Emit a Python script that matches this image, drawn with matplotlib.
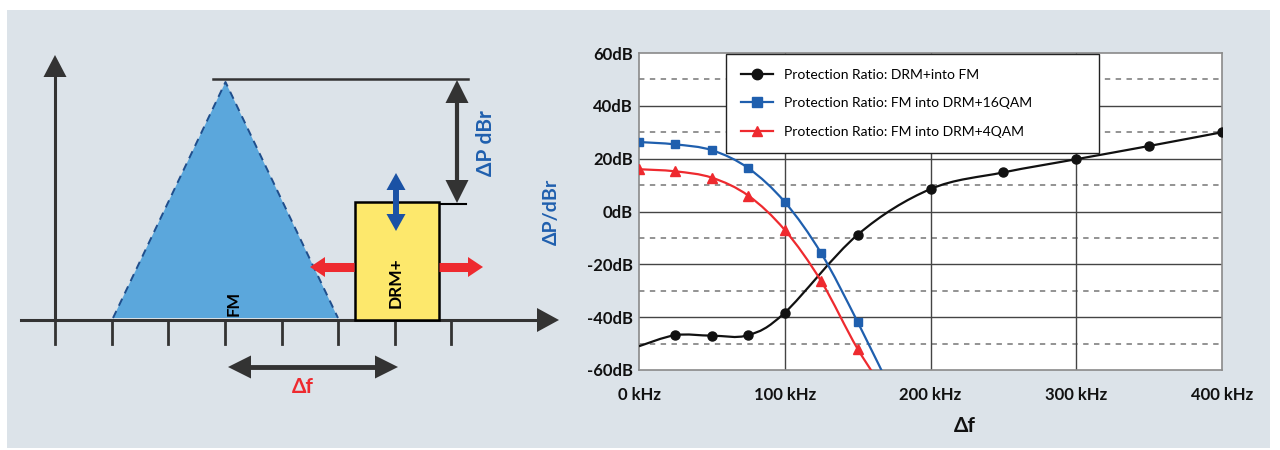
import numpy as np
import matplotlib.pyplot as plt
from matplotlib.patches import Polygon, Rectangle, PathPatch
from matplotlib.path import Path
from matplotlib.lines import Line2D

plt.rcParams['font.family'] = ['Lato', 'DejaVu Sans']

# --- data ---
freq_khz_drm = [0, 25, 50, 75, 100, 150, 200, 250, 300, 350, 400]
pr_drm_into_fm = [-51, -46.8, -47, -46.8, -38.3, -8.8, 8.5, 14.8, 19.8, 24.8, 30]

freq_khz_fm = [0, 25, 50, 75, 100, 125, 150, 175]
pr_fm_into_16qam = [26.3, 25.4, 23.2, 16.4, 3.6, -15.8, -41.8, -70]
pr_fm_into_4qam = [16.0, 15.2, 12.8, 6.0, -7.0, -26.4, -52.0, -73]

legend_labels = ['Protection Ratio: DRM+into FM',
                 'Protection Ratio: FM into DRM+16QAM',
                 'Protection Ratio: FM into DRM+4QAM']
y_ticks = [-60, -40, -20, 0, 20, 40, 60]
x_ticks = [0, 100, 200, 300, 400]

C_BG = '#dce3e9'
C_DARK = '#333333'
C_BLUE = '#1f5fae'
C_RED = '#ee2a2f'


def smooth_path(xs, ys):
    # Catmull-Rom through the points, drawn as cubic Bezier segments
    pts = np.column_stack([xs, ys]).astype(float)
    ext = np.vstack([pts[0], pts, pts[-1]])
    verts = [tuple(pts[0])]
    codes = [Path.MOVETO]
    for i in range(1, len(ext) - 2):
        p0, p1, p2, p3 = ext[i - 1], ext[i], ext[i + 1], ext[i + 2]
        c1 = p1 + (p2 - p0) / 6.0
        c2 = p2 - (p3 - p1) / 6.0
        verts += [tuple(c1), tuple(c2), tuple(p2)]
        codes += [Path.CURVE4] * 3
    return Path(verts, codes)


def head(ax, tip, d, length, width, color):
    tx, ty = tip
    dx, dy = d
    px, py = -dy, dx
    bx, by = tx - dx * length, ty - dy * length
    ax.add_patch(Polygon([(tx, ty), (bx + px * width / 2, by + py * width / 2),
                          (bx - px * width / 2, by - py * width / 2)],
                         closed=True, facecolor=color, edgecolor='none', zorder=5))


fig = plt.figure(figsize=(12.8, 4.5), dpi=100)

# ---------- left diagram (pixel coordinates) ----------
ax0 = fig.add_axes([0, 0, 1, 1])
ax0.set_xlim(0, 1280)
ax0.set_ylim(450, 0)
ax0.axis('off')
ax0.add_patch(Rectangle((7, 10), 1263, 438, facecolor=C_BG, edgecolor='none', zorder=0))

# axes of the sketch
ax0.plot([55, 55], [320, 75], color=C_DARK, lw=2.2, zorder=3)
head(ax0, (55, 55), (0, -1), 22, 23, C_DARK)
ax0.plot([21, 540], [320, 320], color=C_DARK, lw=2.2, zorder=3)
head(ax0, (559, 320), (1, 0), 22, 24, C_DARK)
for tx in [55, 112, 168, 225, 282, 338, 395, 451]:
    ax0.plot([tx, tx], [320, 344], color=C_DARK, lw=2, zorder=3)

# FM triangle
ax0.add_patch(Polygon([(113, 318), (225.5, 82), (338, 318)], closed=True,
                      facecolor='#5ba7dc', edgecolor='none', zorder=2))
ax0.plot([113, 225.5, 338], [318, 82, 318], color='#1f4e8c', lw=1.4,
         dashes=(4, 3), zorder=2.5)
ax0.text(234, 303, 'FM', rotation=90, ha='center', va='center', fontsize=12,
         fontweight='bold', color='black', zorder=6)

# DRM+ box
ax0.add_patch(Rectangle((354.5, 202), 84, 118, facecolor='#fde86c', edgecolor='black',
                        lw=1.8, zorder=4))
ax0.text(396, 283, 'DRM+', rotation=90, ha='center', va='center', fontsize=12.5,
         fontweight='bold', color='black', zorder=6)

# Delta P reference lines and arrow
ax0.plot([213, 468], [79, 79], color=C_DARK, lw=1.8, zorder=3)
ax0.plot([439, 466], [204, 204], color='black', lw=1.5, zorder=3)
ax0.plot([457, 457], [100, 183], color=C_DARK, lw=3, zorder=3)
head(ax0, (457, 80), (0, -1), 23, 23, C_DARK)
head(ax0, (457, 203), (0, 1), 23, 23, C_DARK)
ax0.text(486, 143, 'ΔP dBr', rotation=90, ha='center', va='center', fontsize=15,
         fontweight='bold', color=C_BLUE, zorder=6)

# blue up/down arrow on the box
ax0.plot([396, 396], [188, 216], color='#1a52a5', lw=4.3, zorder=6)
head(ax0, (396, 173), (0, -1), 17, 19, '#1a52a5')
head(ax0, (396, 231), (0, 1), 17, 19, '#1a52a5')

# red sideways arrows
ax0.plot([324, 354], [267, 267], color=C_RED, lw=6.5, solid_capstyle='butt', zorder=6)
head(ax0, (310, 267), (-1, 0), 15, 20, C_RED)
ax0.plot([439, 469], [267, 267], color=C_RED, lw=6.5, solid_capstyle='butt', zorder=6)
head(ax0, (483, 267), (1, 0), 15, 20, C_RED)

# delta f arrow
ax0.plot([248, 378], [367, 367], color=C_DARK, lw=3.5, zorder=3)
head(ax0, (228, 367), (-1, 0), 23, 23, C_DARK)
head(ax0, (398, 367), (1, 0), 23, 23, C_DARK)
ax0.text(303, 387, 'Δf', ha='center', va='center', fontsize=15, fontweight='bold',
         color=C_RED, zorder=6)

# ---------- right chart ----------
ax = fig.add_axes([639 / 1280, 1 - 370 / 450, 583 / 1280, 317 / 450])
ax.set_facecolor('white')
ax.set_xlim(0, 400)
ax.set_ylim(-60, 60)

for v in [-50, -30, -10, 10, 30, 50]:
    ax.axhline(v, color='#8a8a8a', lw=1.3, dashes=(3, 3), zorder=1)
for v in y_ticks[1:-1]:
    ax.axhline(v, color='#444444', lw=1.0, zorder=1)
for v in x_ticks[1:-1]:
    ax.axvline(v, color='#444444', lw=1.0, zorder=1)
for s in ax.spines.values():
    s.set_color('#8a8a8a')
    s.set_linewidth(1.2)

series = [
    (freq_khz_drm, pr_drm_into_fm, '#111111', 'o', 6.5, slice(1, None)),
    (freq_khz_fm, pr_fm_into_16qam, C_BLUE, 's', 6, slice(0, 7)),
    (freq_khz_fm, pr_fm_into_4qam, C_RED, '^', 6.5, slice(0, 7)),
]
handles = []
for (xs, ys, col, mk, ms, sel), lab in zip(series, legend_labels):
    ax.add_patch(PathPatch(smooth_path(xs, ys), facecolor='none', edgecolor=col,
                           lw=1.6, zorder=3, clip_on=True))
    ax.plot(np.asarray(xs)[sel], np.asarray(ys)[sel], linestyle='none', marker=mk,
            markersize=ms, color=col, zorder=4, clip_on=True)
    handles.append(Line2D([], [], color=col, lw=1.6, marker=mk, markersize=ms + 1))

ax.set_yticks(y_ticks)
ax.set_yticklabels([f'{v}dB' for v in y_ticks])
ax.set_xticks(x_ticks)
ax.set_xticklabels([f'{v} kHz' for v in x_ticks])
ax.tick_params(axis='y', length=0, pad=4.5, labelsize=12)
ax.tick_params(axis='x', length=0, pad=12, labelsize=12)
for lab in ax.get_xticklabels() + ax.get_yticklabels():
    lab.set_fontweight('bold')
    lab.set_color('#111111')

ax.set_ylabel('ΔP/dBr', color=C_BLUE, fontsize=14, fontweight='bold')
ax.yaxis.set_label_coords((560 - 639) / 583, 0.5)
ax.set_xlabel('Δf', color='#111111', fontsize=15, fontweight='bold')
ax.xaxis.set_label_coords((965 - 639) / 583, (370 - 416) / 317)

leg = ax.legend(handles, legend_labels, loc='upper left',
                bbox_to_anchor=((726 - 639) / 583, (370 - 147) / 317,
                                (1099 - 726) / 583, (147 - 54) / 317),
                mode='expand', borderaxespad=0, fontsize=10, handlelength=2.3,
                labelspacing=1.2, borderpad=1.05, fancybox=False, framealpha=1,
                edgecolor='#222222')
leg.get_frame().set_linewidth(1.0)
leg.set_zorder(10)

fig.savefig('out.png', dpi=100)
